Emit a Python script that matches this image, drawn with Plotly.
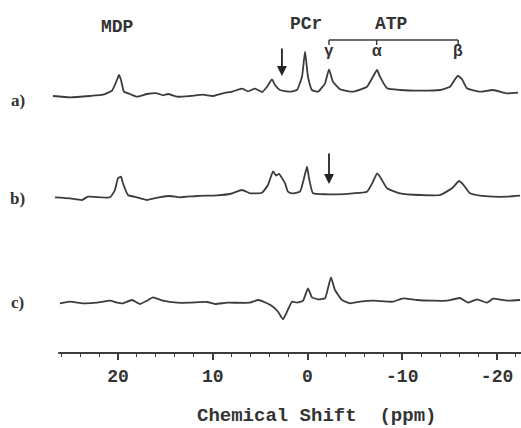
import plotly.graph_objects as go

# ---- data (ppm, relative intensity) ----
ppm_a = [26.86, 25.07, 22.96, 21.58, 20.63, 20.11, 19.89, 19.68, 19.37, 18.73, 18.00, 16.94,
         15.88, 15.25, 14.72, 13.77, 12.40, 11.03, 9.97, 8.92, 7.86, 6.91, 6.28, 5.54, 4.80,
         4.27, 3.75, 3.43, 2.90, 1.85, 1.11, 0.58, 0.26, -0.05, -0.47, -1.11, -1.85, -2.27,
         -2.69, -3.43, -4.80, -6.28, -6.91, -7.34, -7.65, -8.39, -9.76, -11.87, -13.98, -15.04,
         -15.57, -15.88, -16.31, -16.83, -18.21, -19.58, -21.06, -22.22]
int_a = [-2, -3.3, -2, -0.7, 3.3, 14, 19, 14, 2.3, 0, -2.7, 0,
         0.7, -1.3, 0, -2.7, -2, -0.7, -2, 0.7, 2.7, 5.3, 2.7, 5.3, 2,
         7.3, 14.7, 9, 4, 2.3, 4, 17.3, 42.3, 17.3, 4, 2.3, 10.7, 24.7,
         12.3, 4.7, 2.3, 7.3, 17.3, 24, 17.3, 5.7, 4, 3.3, 4, 7.3,
         14.7, 18.3, 14.7, 5.7, 2.3, 4, 0.7, 1.3]

ppm_b = [26.65, 25.07, 23.80, 23.17, 20.84, 20.32, 20.00, 19.68, 19.47, 18.95, 18.00, 16.94,
         15.67, 14.51, 13.46, 11.66, 9.55, 8.18, 6.91, 6.07, 4.80, 4.17, 3.64, 3.32, 3.01,
         2.37, 2.06, 1.64, 0.79, 0.37, 0.05, -0.16, -0.58, -2.06, -3.11, -4.80, -6.28, -6.91,
         -7.34, -7.65, -8.39, -9.76, -11.87, -13.98, -15.25, -15.99, -16.41, -17.15, -18.21,
         -19.58, -21.06, -22.43]
int_b = [-2.3, -3.3, -5, -1.7, -2.3, 5, 16.7, 18.3, 11.7, 0, -2.3, -5,
         -2.3, -1, -2.3, -1, -0.3, 1, 5, 1.7, 2.3, 10, 23.5, 19.5, 21.2,
         11.7, 3.3, 1.7, 3.3, 16.7, 28.3, 16.7, 1.7, 0.7, 0.7, 1.7, 3.3, 13.3,
         21.7, 18.3, 6.7, 1.7, 0, 0, 6.7, 14, 10.7, 1.7, -0.7,
         -1.7, -1.7, -0.7]

ppm_c = [26.12, 25.07, 23.69, 22.22, 20.84, 20.11, 19.47, 18.52, 17.68, 16.94, 16.31, 15.25,
         13.77, 12.40, 10.61, 9.76, 8.50, 6.07, 5.22, 4.27, 3.64, 3.11, 2.59, 2.16, 1.64,
         1.11, 0.47, -0.05, -0.47, -1.11, -1.85, -2.16, -2.48, -2.90, -3.64, -4.49, -5.54,
         -6.91, -9.02, -10.08, -11.56, -13.25, -14.72, -16.09, -16.94, -17.89, -18.94, -19.58,
         -21.06, -22.43]
int_c = [-2.3, -0.7, -2.3, -1.7, 0.3, -1.7, -2.3, 1, -3, 0.3, 3.7, 0.3,
         -1.7, -1.7, -1, -3, -1.7, -1.7, 1, -2.3, -5.7, -10.7, -18.3, -10.7, -0.7,
         -1.7, 0.3, 12.7, 3.7, 1.7, 2.7, 12.7, 23.7, 11, 1, -2.3, -0.7,
         0.3, -0.7, 2.7, 1, 0.3, 0.3, 3, -1.7, 1.7, -1.7, 2.3,
         0.3, 1]

labels = ["a)", "b)", "c)"]
major_ticks = [20, 10, 0, -10, -20]
tick_text = ["20", "10", "0", "-10", "-20"]
minor_ticks = [26, 24, 22, 18, 16, 14, 12, 8, 6, 4, 2, -2, -4, -6, -8, -12, -14, -16, -18, -22]

atp_ppm = {"γ": -2.27, "α": -7.3, "β": -15.9}
arrow_a_ppm = 2.7
arrow_b_ppm = -2.27

# ---- layout constants ----
offsets = [207, 106, 0]
label_y = [201, 103, -1]
LINE = "#3c3c3c"
TXT = "#333333"
FONT = "Liberation Mono"

fig = go.Figure()
for xs, ys, off in [(ppm_a, int_a, offsets[0]), (ppm_b, int_b, offsets[1]), (ppm_c, int_c, offsets[2])]:
    fig.add_trace(go.Scatter(x=xs, y=[v + off for v in ys], mode="lines",
                             line=dict(color=LINE, width=1.8, shape="spline", smoothing=0.4),
                             hoverinfo="skip", showlegend=False))

ann = []
for lab, ly in zip(labels, label_y):
    ann.append(dict(x=30.6, y=ly, xref="x", yref="y", text=lab, showarrow=False,
                    font=dict(family="Liberation Serif", size=17, color=TXT, weight="bold")))
for txt, xp, yp in [("MDP", 20.0, 274), ("PCr", 0.2, 277), ("ATP", -8.9, 277)]:
    ann.append(dict(x=xp, y=yp, xref="x", yref="y", text=txt, showarrow=False,
                    font=dict(family=FONT, size=18, color=TXT, weight="bold")))
for g, p in atp_ppm.items():
    ann.append(dict(x=p, y=249, xref="x", yref="y", text=g, showarrow=False,
                    font=dict(family=FONT, size=16, color=TXT, weight="bold")))
# arrows
ann.append(dict(x=arrow_a_ppm, y=225, ax=arrow_a_ppm, ay=254, xref="x", yref="y", axref="x", ayref="y",
                text="", showarrow=True, arrowhead=2, arrowsize=1.1, arrowwidth=1.8, arrowcolor="#222"))
ann.append(dict(x=arrow_b_ppm, y=117, ax=arrow_b_ppm, ay=149, xref="x", yref="y", axref="x", ayref="y",
                text="", showarrow=True, arrowhead=2, arrowsize=1.1, arrowwidth=1.8, arrowcolor="#222"))
# axis title
ann.append(dict(x=-0.9, y=-0.178, xref="x", yref="paper", yanchor="middle",
                text="Chemical Shift\u00a0\u00a0(ppm)",
                showarrow=False, font=dict(family=FONT, size=19, color=TXT, weight="bold")))

shapes = [
    dict(type="line", xref="x", yref="paper", x0=26.3, x1=-22.6, y0=0, y1=0,
         line=dict(color=LINE, width=1.8)),
    dict(type="line", xref="x", yref="y", x0=atp_ppm["γ"], x1=atp_ppm["β"], y0=261, y1=261,
         line=dict(color=LINE, width=1.5)),
]
for p in atp_ppm.values():
    shapes.append(dict(type="line", xref="x", yref="y", x0=p, x1=p, y0=261, y1=256,
                       line=dict(color=LINE, width=1.5)))

fig.update_layout(
    width=521, height=428,
    margin=dict(l=0, r=0, t=0, b=75),
    paper_bgcolor="white", plot_bgcolor="white",
    xaxis=dict(range=[32.45, -22.53], showgrid=False, zeroline=False, showline=False,
               tickmode="array", tickvals=major_ticks, ticktext=tick_text,
               ticks="outside", ticklen=6, tickwidth=1.5, tickcolor=LINE,
               ticklabelstandoff=0,
               minor=dict(tickmode="array", tickvals=minor_ticks, ticks="outside",
                          ticklen=3, tickwidth=1.2, tickcolor=LINE),
               tickfont=dict(family=FONT, size=18, color=TXT, weight="bold")),
    yaxis=dict(range=[-52, 301], visible=False, showgrid=False, zeroline=False),
    annotations=ann, shapes=shapes,
)

fig.write_html("out.html", config={"displayModeBar": False},
               post_script="document.body.style.margin='0';")
